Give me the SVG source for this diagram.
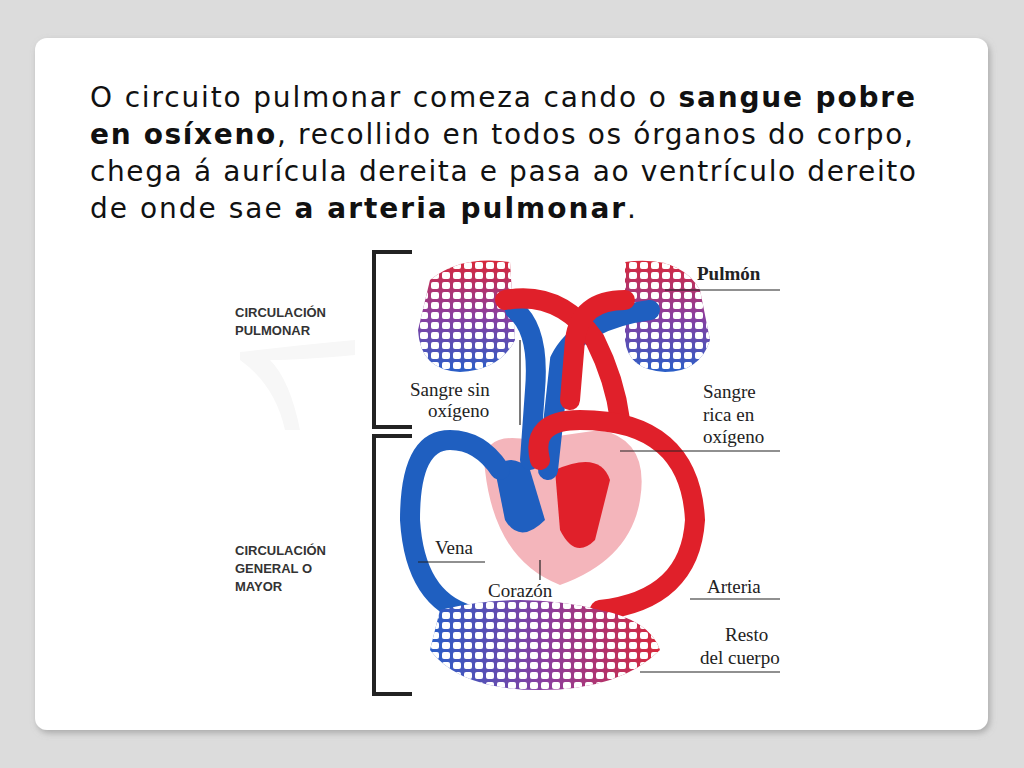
<svg xmlns="http://www.w3.org/2000/svg" width="1024" height="768" viewBox="0 0 1024 768">
<defs>
<style>
.t{font-family:"DejaVu Sans","Open Sans",sans-serif;font-size:28px;fill:#111}
.l{font-family:"Liberation Sans",Arial,sans-serif;font-size:13px;font-weight:bold;fill:#333}
.s{font-family:"Liberation Serif","Times New Roman",serif;font-size:19px;fill:#222}
.br{fill:none;stroke:#222;stroke-width:4}
.ln{stroke:#222;stroke-width:1.2}
.red{fill:none;stroke:#e0202a;stroke-width:20;stroke-linecap:round}
.blue{fill:none;stroke:#1f5fc0;stroke-width:20;stroke-linecap:round}
</style>
<linearGradient id="lg" x1="0" y1="0" x2="0" y2="1"><stop offset="0" stop-color="#d8283a"/><stop offset="0.5" stop-color="#8a3fa0"/><stop offset="1" stop-color="#2a5fc8"/></linearGradient>
<linearGradient id="cg" x1="0" y1="0" x2="1" y2="0"><stop offset="0" stop-color="#2a5fc8"/><stop offset="0.5" stop-color="#8a3fa0"/><stop offset="1" stop-color="#d8283a"/></linearGradient>
<filter id="sh" x="-5%" y="-5%" width="110%" height="110%"><feDropShadow dx="2" dy="3" stdDeviation="3" flood-color="#888" flood-opacity="0.6"/></filter>
<pattern id="grid" width="11" height="10" patternUnits="userSpaceOnUse"><rect x="2" y="2" width="8" height="7" rx="2" fill="#fff"/></pattern>
</defs>
<rect width="1024" height="768" fill="#dcdcdc"/>
<rect x="35" y="38" width="953" height="692" rx="12" fill="#fff" filter="url(#sh)"/>
<g id="text">
<text class="t" x="90" y="107" textLength="825">O circuito pulmonar comeza cando o <tspan font-weight="bold">sangue pobre</tspan></text>
<text class="t" x="90" y="144" textLength="823"><tspan font-weight="bold">en osíxeno</tspan>, recollido en todos os órganos do corpo,</text>
<text class="t" x="90" y="181" textLength="826">chega á aurícula dereita e pasa ao ventrículo dereito</text>
<text class="t" x="90" y="218" textLength="546">de onde  sae <tspan font-weight="bold">a arteria pulmonar</tspan>.</text>
</g>
<g id="diagram">
<path d="M240 352 Q300 345 355 340 L355 355 Q300 360 270 360 Q290 380 300 430 L285 430 Q275 385 240 360Z" fill="#f7f7f7"/>
<path class="br" d="M412 252H374V427H412"/>
<path class="br" d="M412 436H374V694H412"/>
<text class="l" x="235" y="317">CIRCULACIÓN</text>
<text class="l" x="235" y="335">PULMONAR</text>
<text class="l" x="235" y="555">CIRCULACIÓN</text>
<text class="l" x="235" y="573">GENERAL O</text>
<text class="l" x="235" y="591">MAYOR</text>
<path d="M430 280 Q460 255 510 262 L515 340 Q500 370 460 372 Q420 370 418 330 Z" fill="url(#lg)"/>
<path d="M430 280 Q460 255 510 262 L515 340 Q500 370 460 372 Q420 370 418 330 Z" fill="url(#grid)"/>
<path d="M625 262 Q680 255 700 290 L710 340 Q700 372 665 372 Q628 370 625 340 Z" fill="url(#lg)"/>
<path d="M625 262 Q680 255 700 290 L710 340 Q700 372 665 372 Q628 370 625 340 Z" fill="url(#grid)"/>
<path d="M485 470 Q480 430 530 440 L600 430 Q650 440 640 500 Q630 560 560 585 Q495 560 485 470Z" fill="#f4b5bb"/>
<path d="M495 470 Q510 450 530 470 L545 520 Q520 545 505 520Z" fill="#1f5fc0"/>
<path d="M555 470 Q600 450 610 480 L595 540 Q575 560 560 530Z" fill="#e0202a"/>
<path class="blue" d="M515 310 Q540 330 535 390 L530 460"/>
<path class="blue" d="M650 310 Q580 320 560 360 L548 470"/>
<path class="red" d="M505 300 Q560 290 595 340 Q615 380 620 420"/>
<path class="red" d="M625 300 Q580 300 575 340 L570 400"/>
<path class="red" d="M540 460 Q530 420 580 420 Q690 420 695 520 Q690 600 600 610"/>
<path class="blue" d="M500 470 Q480 440 450 440 Q410 440 410 520 Q415 600 470 615"/>
<path d="M440 610 Q520 590 600 610 Q650 620 660 650 Q620 690 540 690 Q460 690 430 650Z" fill="url(#cg)"/>
<path d="M440 610 Q520 590 600 610 Q650 620 660 650 Q620 690 540 690 Q460 690 430 650Z" fill="url(#grid)"/>
</g>
<g id="labels">
<text class="s" x="697" y="280" font-weight="bold">Pulmón</text>
<line class="ln" x1="665" y1="290" x2="780" y2="290"/>
<text class="s" x="410" y="396">Sangre sin</text>
<text class="s" x="428" y="417">oxígeno</text>
<line class="ln" x1="520" y1="425" x2="520" y2="340"/>
<text class="s" x="703" y="398">Sangre</text>
<text class="s" x="703" y="421">rica en</text>
<text class="s" x="703" y="443">oxígeno</text>
<line class="ln" x1="620" y1="451" x2="780" y2="451"/>
<text class="s" x="435" y="554">Vena</text>
<line class="ln" x1="418" y1="562" x2="485" y2="562"/>
<text class="s" x="488" y="597">Corazón</text>
<line class="ln" x1="540" y1="580" x2="540" y2="560"/>
<text class="s" x="707" y="593">Arteria</text>
<line class="ln" x1="690" y1="599" x2="780" y2="599"/>
<text class="s" x="725" y="641">Resto</text>
<text class="s" x="700" y="664">del cuerpo</text>
<line class="ln" x1="640" y1="672" x2="780" y2="672"/>
</g>
</svg>
